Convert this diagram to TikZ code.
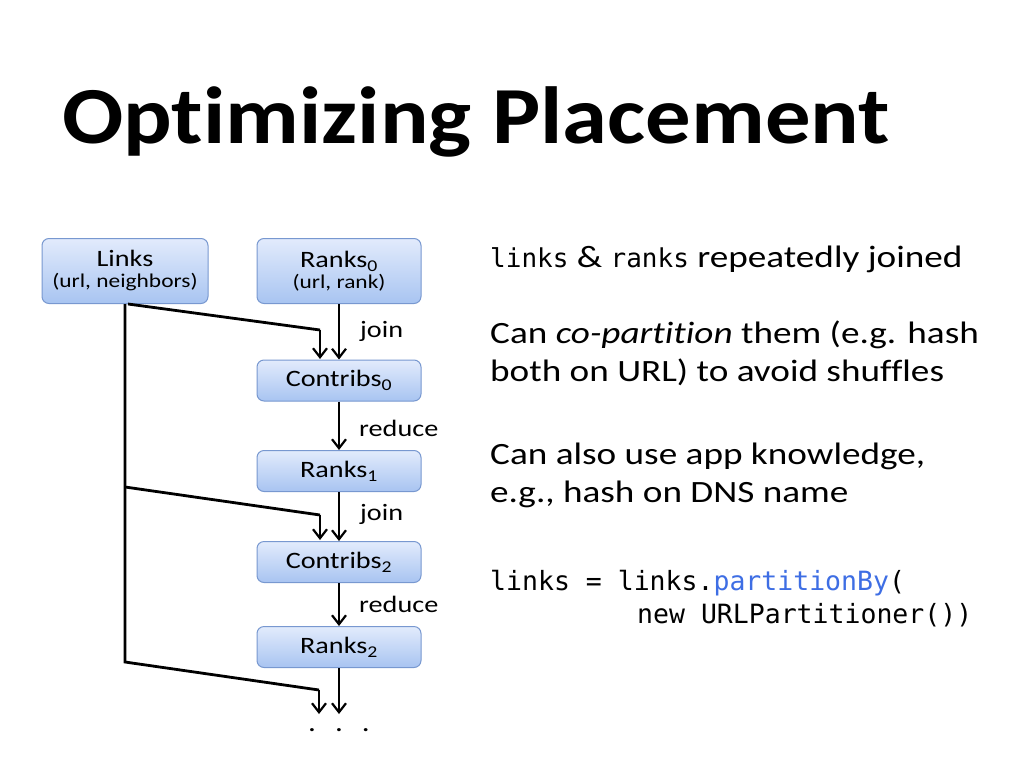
\documentclass[tikz,border=0pt]{standalone}
\usepackage{fontspec}
\setmainfont{Carlito}[FakeStretch=1.2, Ligatures=NoCommon]
\newfontfamily\titlefont{Carlito}[FakeStretch=1.12, Ligatures=NoCommon]
\newfontfamily\codefont{DejaVu Sans Mono}
\usetikzlibrary{arrows.meta}
\definecolor{boxtop}{RGB}{226,235,252}
\definecolor{boxbot}{RGB}{168,196,241}
\definecolor{boxline}{RGB}{120,152,208}
\definecolor{codeblue}{RGB}{62,110,228}
\tikzset{
  stage/.style={draw=boxline, line width=1pt, rounded corners=7pt, top color=boxtop, bottom color=boxbot,
    minimum width=164pt, inner sep=0pt, align=center, font=\fontsize{23.5}{25}\selectfont},
  flow/.style={line width=2.8pt, -{Straight Barb[length=9pt,width=14pt,line width=2.2pt]}},
  plain/.style={line width=2.8pt},
  lbl/.style={anchor=west, font=\fontsize{23.5}{25}\selectfont, inner sep=0pt},
  body/.style={anchor=base west, inner sep=0pt, font=\fontsize{31}{31}\selectfont},
  code/.style={anchor=base west, inner sep=0pt, font=\codefont\fontsize{26.5}{26.5}\selectfont}
}
\begin{document}
\begin{tikzpicture}[x=1pt,y=-1pt]
\path[use as bounding box, fill=white] (0,0) rectangle (1024,768);
\node[anchor=base west, inner sep=0pt, font=\titlefont\bfseries\fontsize{81}{81}\selectfont] (title) at (62,143) {Optimizing Placement};

\node[stage, minimum width=166pt, minimum height=65pt] (links) at (125,271) {Links\\[-4pt]{\fontsize{19.5}{21}\selectfont(url, neighbors)}};
\node[stage, minimum height=65pt] (r0) at (339,271) {Ranks\textsubscript{0}\\[-4pt]{\fontsize{19.5}{21}\selectfont(url, rank)}};
\node[stage, minimum height=41pt] (c0) at (339,380.5) {Contribs\textsubscript{0}};
\node[stage, minimum height=41pt] (r1) at (339,471) {Ranks\textsubscript{1}};
\node[stage, minimum height=41pt] (c2) at (339,562) {Contribs\textsubscript{2}};
\node[stage, minimum height=41pt] (r2) at (339,647) {Ranks\textsubscript{2}};
\node[inner sep=0pt, font=\fontsize{26}{26}\selectfont] (dots) at (339,730) {.\hspace{19pt}.\hspace{19pt}.};

\coordinate (d1) at (320,330);
\coordinate (d2) at (320,515);
\coordinate (v2) at (125,487);
\coordinate (d3) at (319,690);
\coordinate (v3) at (125,662);
\coordinate (e1) at (320,359);
\coordinate (e2) at (320,540);
\coordinate (e3) at (319,714);
\coordinate (f3) at (339,714);

% links stream
\draw[plain, line join=miter] (links.south) -- (v3) -- (d3);
\draw[flow] (d3) -- (e3);
\draw[plain] ([xshift=3pt]links.south) -- (d1);
\draw[flow] (d1) -- (e1);
\draw[plain] (v2) -- (d2);
\draw[flow] (d2) -- (e2);

% ranks stream
\draw[flow] (r0.south) -- (c0.north);
\draw[flow] (c0.south) -- (r1.north);
\draw[flow] (r1.south) -- (c2.north);
\draw[flow] (c2.south) -- (r2.north);
\draw[flow] (r2.south) -- (f3);

\node[lbl] (j1) at (360,331) {join};
\node[lbl] (rd1) at (359,428) {reduce};
\node[lbl] (j2) at (360,514) {join};
\node[lbl] (rd2) at (359,604) {reduce};

% right text
\node[body] (t1) at (490,267) {{\codefont\fontsize{26}{26}\selectfont links} \& {\codefont\fontsize{26}{26}\selectfont ranks} repeatedly joined};
\node[body] (t2) at (490,343) {Can \textit{co-partition} them (e.g. hash};
\node[body] (t3) at (490,381) {both on URL) to avoid shuffles};
\node[body] (t4) at (490,464) {Can also use app knowledge,};
\node[body] (t5) at (490,502) {e.g., hash on DNS name};
\node[code] (k1) at (490,590) {links = links.\textcolor{codeblue}{partitionBy}(};
\node[code] (k2) at (637,623) {new URLPartitioner())};
\end{tikzpicture}
\end{document}
